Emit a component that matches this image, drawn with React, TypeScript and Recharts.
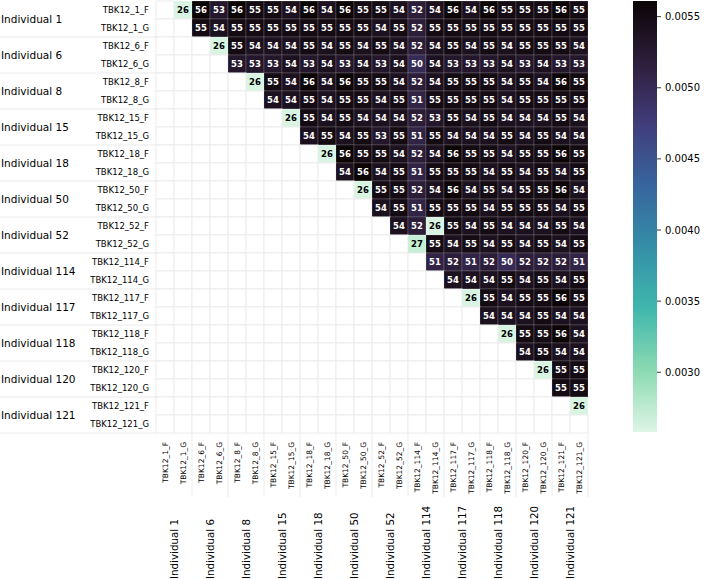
import { ScatterChart, Scatter, XAxis, YAxis } from 'recharts';

const samples = [
  'TBK12_1_F', 'TBK12_1_G', 'TBK12_6_F', 'TBK12_6_G', 'TBK12_8_F', 'TBK12_8_G',
  'TBK12_15_F', 'TBK12_15_G', 'TBK12_18_F', 'TBK12_18_G', 'TBK12_50_F', 'TBK12_50_G',
  'TBK12_52_F', 'TBK12_52_G', 'TBK12_114_F', 'TBK12_114_G', 'TBK12_117_F', 'TBK12_117_G',
  'TBK12_118_F', 'TBK12_118_G', 'TBK12_120_F', 'TBK12_120_G', 'TBK12_121_F', 'TBK12_121_G',
];

const individuals = [
  'Individual 1', 'Individual 6', 'Individual 8', 'Individual 15', 'Individual 18', 'Individual 50',
  'Individual 52', 'Individual 114', 'Individual 117', 'Individual 118', 'Individual 120', 'Individual 121',
];

// distances x 1e-4, each row starts one column right of the diagonal
const d1F = [26, 56, 53, 56, 55, 55, 54, 56, 54, 56, 55, 55, 54, 52, 54, 56, 54, 56, 55, 55, 55, 56, 55];
const d1G = [55, 54, 55, 55, 55, 55, 55, 55, 55, 55, 54, 55, 52, 55, 55, 55, 55, 55, 55, 55, 55, 55];
const d6F = [26, 55, 54, 54, 54, 55, 54, 55, 54, 55, 54, 52, 54, 55, 54, 55, 54, 55, 55, 55, 54];
const d6G = [53, 53, 53, 54, 53, 54, 53, 54, 53, 54, 50, 54, 53, 53, 53, 54, 53, 54, 53, 53];
const d8F = [26, 55, 54, 56, 54, 56, 55, 55, 54, 52, 54, 55, 55, 55, 54, 55, 54, 56, 55];
const d8G = [54, 54, 55, 54, 55, 55, 54, 55, 51, 55, 55, 55, 55, 54, 55, 55, 55, 55];
const d15F = [26, 55, 54, 55, 54, 54, 54, 52, 53, 55, 54, 55, 54, 54, 54, 55, 54];
const d15G = [54, 55, 54, 55, 53, 55, 51, 55, 54, 54, 54, 55, 54, 55, 54, 54];
const d18F = [26, 56, 55, 55, 54, 52, 54, 56, 55, 55, 54, 55, 55, 56, 55];
const d18G = [54, 56, 54, 55, 51, 55, 55, 55, 54, 55, 54, 55, 54, 55];
const d50F = [26, 55, 55, 52, 54, 56, 54, 55, 54, 55, 55, 56, 54];
const d50G = [54, 55, 51, 55, 55, 55, 54, 55, 55, 55, 54, 55];
const d52F = [54, 52, 26, 55, 54, 55, 54, 54, 54, 55, 54];
const d52G = [27, 55, 54, 55, 54, 55, 54, 55, 54, 55];
const d114F = [51, 52, 51, 52, 50, 52, 52, 52, 51];
const d114G = [54, 54, 54, 55, 54, 55, 54, 55];
const d117F = [26, 55, 54, 55, 55, 56, 55];
const d117G = [54, 54, 54, 55, 54, 54];
const d118F = [26, 55, 55, 56, 54];
const d118G = [54, 55, 54, 54];
const d120F = [26, 55, 55];
const d120G = [55, 55];
const d121F = [26];
const d121G: number[] = [];

const distanceRows = [
  d1F, d1G, d6F, d6G, d8F, d8G, d15F, d15G, d18F, d18G, d50F, d50G,
  d52F, d52G, d114F, d114G, d117F, d117G, d118F, d118G, d120F, d120G, d121F, d121G,
];

const colorbarTicks = [0.003, 0.0035, 0.004, 0.0045, 0.005, 0.0055];
const VMIN = 0.00258;
const VMAX = 0.00561;

const W = 708;
const H = 580;
const MARGIN = { top: 1, right: 120, bottom: 0, left: 0 };
const Y_AXIS_W = 156;
const X_AXIS_H = 147;
const PLOT_W = W - MARGIN.right - MARGIN.left - Y_AXIS_W;
const CELL = PLOT_W / samples.length;
const FONT = 'DejaVu Sans';

const makoStops: [number, string][] = [
  [0, '#0b0405'], [1 / 7, '#2e1e3b'], [2 / 7, '#413d7b'], [3 / 7, '#37659e'],
  [4 / 7, '#348fa7'], [5 / 7, '#40b7ad'], [6 / 7, '#8bdab2'], [1, '#def5e5'],
];

function hexToRgb(h: string) {
  return [1, 3, 5].map((k) => parseInt(h.slice(k, k + 2), 16));
}

function mako(t: number) {
  const c = Math.max(0, Math.min(1, t));
  for (let k = 1; k < makoStops.length; k++) {
    const [p1, h1] = makoStops[k - 1];
    const [p2, h2] = makoStops[k];
    if (c <= p2) {
      const f = (c - p1) / (p2 - p1);
      const a = hexToRgb(h1);
      const b = hexToRgb(h2);
      const rgb = a.map((v, idx) => Math.round(v + (b[idx] - v) * f));
      return `rgb(${rgb.join(',')})`;
    }
  }
  return makoStops[makoStops.length - 1][1];
}

const norm = (v: number) => (v * 1e-4 - VMIN) / (VMAX - VMIN);

const cells: { x: number; y: number; value: number | null }[] = [];
samples.forEach((_, i) => {
  samples.forEach((__, j) => {
    const value = j > i ? distanceRows[i][j - i - 1] : null;
    cells.push({ x: j, y: i, value });
  });
});

function CellShape(props: any) {
  const { cx, cy, payload } = props;
  const v = payload.value;
  const x0 = cx - CELL / 2;
  const y0 = cy - CELL / 2;
  if (v == null) {
    return <rect x={x0} y={y0} width={CELL} height={CELL} fill="#ffffff" stroke="#ebebeb" strokeWidth={1} />;
  }
  const t = norm(v);
  return (
    <g>
      <rect x={x0} y={y0} width={CELL} height={CELL} fill={mako(1 - t)} stroke="rgba(255,255,255,0.16)" strokeWidth={1} />
      <text
        x={cx}
        y={cy}
        textAnchor="middle"
        dominantBaseline="central"
        fontSize={8.5}
        fontWeight="bold"
        fontFamily={FONT}
        fill={t > 0.5 ? '#ffffff' : '#000000'}
      >
        {v}
      </text>
    </g>
  );
}

function XTick(props: any) {
  const { x, y, payload } = props;
  const i = payload.value as number;
  const gx = x + CELL / 2;
  return (
    <g>
      <text
        x={x}
        y={y + 9}
        transform={`rotate(-90 ${x} ${y + 9})`}
        textAnchor="end"
        dominantBaseline="central"
        fontSize={7.5}
        fontFamily={FONT}
        fill="#000"
      >
        {samples[i]}
      </text>
      {i % 2 === 0 && (
        <text
          x={gx}
          y={y + 146}
          transform={`rotate(-90 ${gx} ${y + 146})`}
          textAnchor="start"
          dominantBaseline="central"
          fontSize={10.3}
          fontFamily={FONT}
          fill="#000"
        >
          {individuals[i / 2]}
        </text>
      )}
      {i % 2 === 1 && <line x1={gx} x2={gx} y1={y} y2={y + 64} stroke="#ebebeb" strokeWidth={1} />}
    </g>
  );
}

function YTick(props: any) {
  const { x, y, payload } = props;
  const i = payload.value as number;
  const gy = y + CELL / 2;
  return (
    <g>
      <text x={x - 7} y={y} textAnchor="end" dominantBaseline="central" fontSize={8.5} fontFamily={FONT} fill="#000">
        {samples[i]}
      </text>
      {i % 2 === 0 && (
        <text x={1} y={gy} textAnchor="start" dominantBaseline="central" fontSize={10.5} fontFamily={FONT} fill="#000">
          {individuals[i / 2]}
        </text>
      )}
      {i % 2 === 1 && <line x1={0} x2={x} y1={gy} y2={gy} stroke="#ebebeb" strokeWidth={1} />}
    </g>
  );
}

function Colorbar() {
  const left = 633;
  const barW = 24;
  const top = MARGIN.top;
  const barH = 431;
  const yOf = (v: number) => top + ((VMAX - v) / (VMAX - VMIN)) * barH;
  return (
    <svg width={W} height={H} style={{ position: 'absolute', left: 0, top: 0, pointerEvents: 'none' }}>
      <defs>
        <linearGradient id="makoBar" x1="0" y1="0" x2="0" y2="1">
          {makoStops.map(([p, c]) => (
            <stop key={p} offset={p} stopColor={c} />
          ))}
        </linearGradient>
      </defs>
      <rect x={left} y={top} width={barW} height={barH} fill="url(#makoBar)" />
      {colorbarTicks.map((v) => (
        <g key={v}>
          <line x1={left + barW} x2={left + barW + 4} y1={yOf(v)} y2={yOf(v)} stroke="#000" strokeWidth={0.8} />
          <text x={left + barW + 8} y={yOf(v)} dominantBaseline="central" fontSize={10} fontFamily={FONT} fill="#000">
            {v.toFixed(4)}
          </text>
        </g>
      ))}
    </svg>
  );
}

export default function App() {
  const idx = samples.map((_, i) => i);
  return (
    <div style={{ position: 'absolute', left: 0, top: 0, width: W, height: H, background: '#fff' }}>
      <ScatterChart width={W} height={H} margin={MARGIN}>
        <XAxis
          type="number"
          dataKey="x"
          domain={[-0.5, samples.length - 0.5]}
          ticks={idx}
          interval={0}
          height={X_AXIS_H}
          tickSize={0}
          tickMargin={0}
          axisLine={false}
          tickLine={false}
          tick={<XTick />}
        />
        <YAxis
          type="number"
          dataKey="y"
          domain={[-0.5, samples.length - 0.5]}
          reversed
          ticks={idx}
          interval={0}
          width={Y_AXIS_W}
          tickSize={0}
          tickMargin={0}
          axisLine={false}
          tickLine={false}
          tick={<YTick />}
        />
        <Scatter data={cells} shape={<CellShape />} isAnimationActive={false} />
      </ScatterChart>
      <Colorbar />
    </div>
  );
}
